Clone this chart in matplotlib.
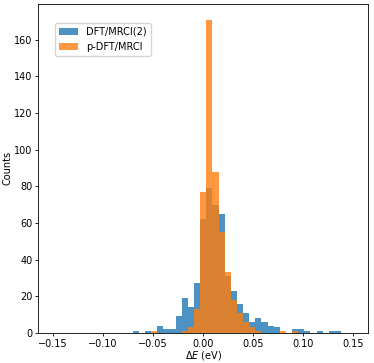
import numpy as np
import matplotlib
matplotlib.use("Agg")
import matplotlib.pyplot as plt

# histogram bins (eV) and counts
edges = np.linspace(-0.15, 0.15, 50)
first_bin = 13
counts_dft = [1, 0, 1, 0, 4, 2, 2, 9, 19, 14, 27, 62, 79, 70, 65, 31, 23, 16,
              11, 6, 8, 6, 4, 3, 0, 0, 2, 2, 1, 0, 1, 0, 1, 1]
counts_pdft = [0, 0, 0, 1, 0, 0, 0, 0, 1, 3, 13, 77, 171, 88, 55, 33, 18, 11,
               6, 3, 1, 0, 0, 0, 1, 0, 1, 0, 0, 0, 0, 0, 0, 0]
labels = ["DFT/MRCI(2)", "p-DFT/MRCI"]

centers = 0.5 * (edges[:-1] + edges[1:])
w_dft = np.zeros(len(centers))
w_pdft = np.zeros(len(centers))
w_dft[first_bin:first_bin + len(counts_dft)] = counts_dft
w_pdft[first_bin:first_bin + len(counts_pdft)] = counts_pdft

plt.rcParams['font.size'] = 7
plt.rcParams['xtick.major.size'] = 2.2
plt.rcParams['ytick.major.size'] = 2.2
plt.rcParams['xtick.major.pad'] = 2.0
plt.rcParams['ytick.major.pad'] = 2.0
plt.rcParams['axes.linewidth'] = 0.6
plt.rcParams['xtick.major.width'] = 0.6
plt.rcParams['ytick.major.width'] = 0.6

fig = plt.figure(figsize=(3.74, 3.63), dpi=100)
ax = fig.add_axes([0.102, 0.083, 0.883, 0.906])

ax.hist(centers, bins=edges, weights=w_dft, alpha=0.8, label=labels[0])
ax.hist(centers, bins=edges, weights=w_pdft, alpha=0.8, label=labels[1])

ax.set_xlabel(r'$\Delta E$ (eV)', labelpad=0)
ax.set_ylabel('Counts', labelpad=1.0)
ax.legend(loc='upper left', bbox_to_anchor=(0.051, 0.942), borderaxespad=0)

fig.savefig("out.png", dpi=100)
